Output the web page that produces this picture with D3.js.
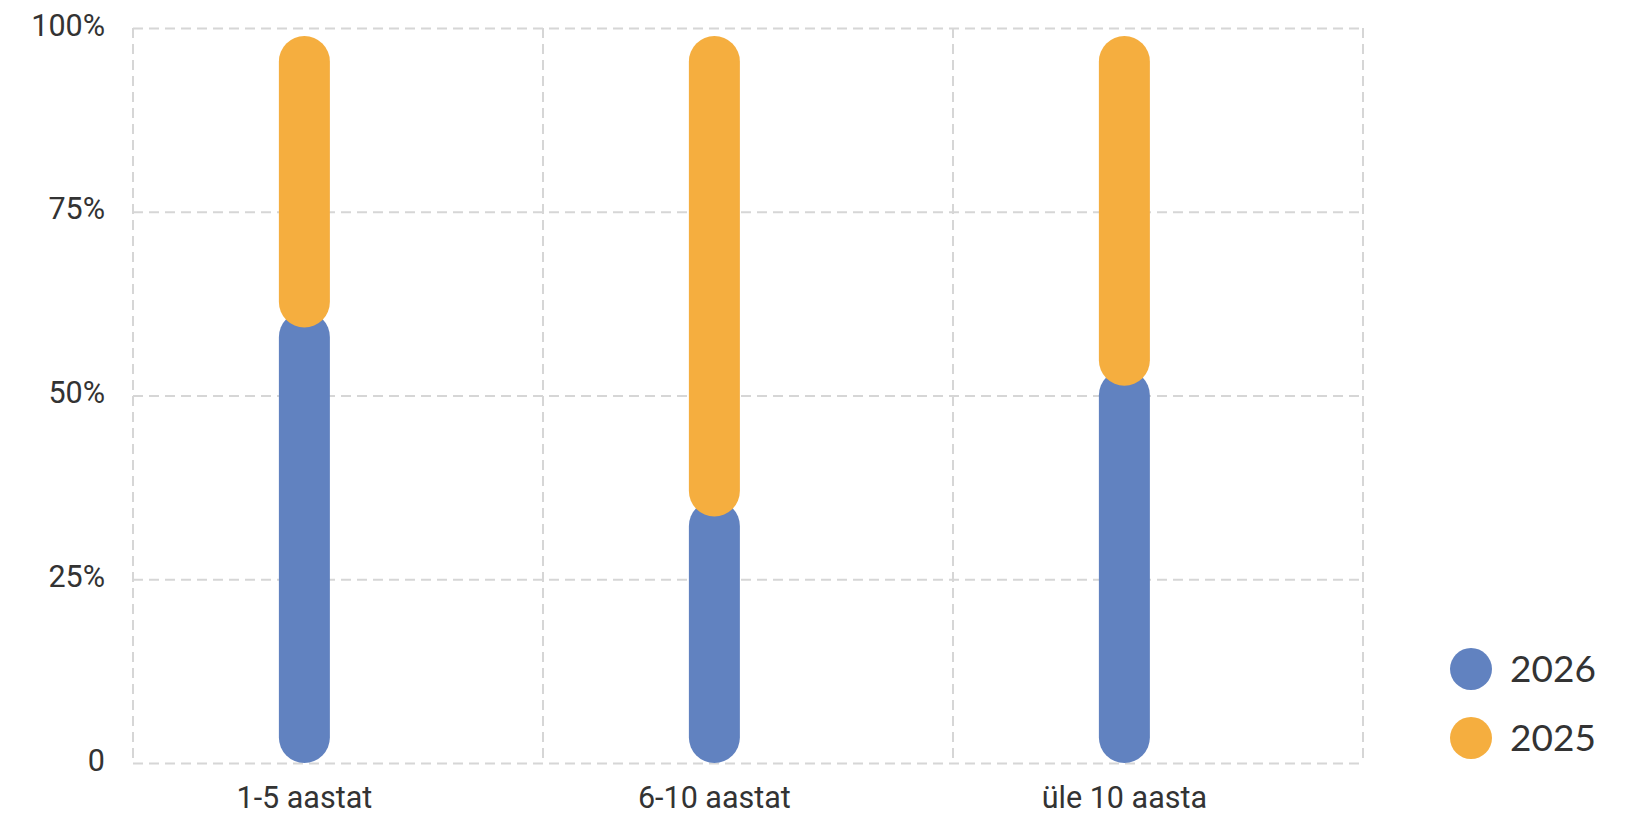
<!DOCTYPE html>
<html>
<head>
<meta charset="utf-8">
<script src="https://cdn.jsdelivr.net/npm/d3@7"></script>
<style>
	body { margin: 0; background: #fff; }
	svg { display: block; }
</style>
</head>
<body>
<svg id="chart" width="1625" height="815"></svg>
<script>
var categories = ["1-5 aastat", "6-10 aastat", "üle 10 aasta"];
var seriesNames = ["2026", "2025"];
var values2026 = [61, 35, 53];
var values2025 = [39, 65, 47];
var yTicks = [0, 25, 50, 75, 100];
var colours = ["#6182c0", "#f5ae3f"];

var svg = d3.select("#chart"),
	plotLeft = 133, plotRight = 1363, plotTop = 28, plotBottom = 763,
	barWidth = 51,
	overlap = 8;

//table for d3.stack, built from the arrays above
var table = categories.map(function(c, i) {
	return {cat: c, "2026": values2026[i], "2025": values2025[i]};
});
var stacked = d3.stack().keys(seriesNames)(table);

var x = d3.scaleBand()
	.domain(categories)
	.range([plotLeft, plotRight])
	.padding(0);
var y = d3.scaleLinear()
	.domain([0, 100])
	.range([plotBottom, plotTop]);
//bars stop a bit under the 100% line
var barY = d3.scaleLinear()
	.domain([0, 100])
	.range([plotBottom, plotTop + 8]);

function barCenter(c) {
	return x(c) + x.bandwidth() * 0.418;
}

var gridStyle = function(sel) {
	sel.attr("stroke", "#d6d6d6")
		.attr("stroke-width", 2)
		.attr("stroke-dasharray", "10,6");
};

//horizontal grid + y labels
var yAxis = svg.append("g")
	.attr("transform", "translate(" + plotLeft + ",0)")
	.call(d3.axisLeft(y)
		.tickValues(yTicks)
		.tickSize(-(plotRight - plotLeft))
		.tickPadding(28)
		.tickFormat(function(d) { return d === 0 ? "0" : d + "%"; }));
yAxis.select(".domain").remove();
yAxis.selectAll(".tick line").call(gridStyle);
yAxis.selectAll(".tick text")
	.attr("dy", "0.3em")
	.attr("y", -2)
	.attr("fill", "#333")
	.style("font-family", "Roboto, 'Noto Sans', sans-serif")
	.style("font-size", "30.5px");

//vertical grid
var vLines = categories.map(function(c) { return x(c); }).concat([plotRight]);
svg.append("g").selectAll("line")
	.data(vLines)
	.enter()
	.append("line")
		.attr("x1", function(d) { return d; })
		.attr("x2", function(d) { return d; })
		.attr("y1", plotTop)
		.attr("y2", plotBottom)
		.call(gridStyle);

//stacked pills
svg.append("g").selectAll(".layer")
	.data(stacked)
	.enter()
	.append("g")
		.attr("class", "layer")
		.attr("fill", function(d, i) { return colours[i]; })
	.selectAll("rect")
	.data(function(d) { return d; })
	.enter()
	.append("rect")
		.attr("x", function(d) { return barCenter(d.data.cat) - barWidth / 2; })
		.attr("width", barWidth)
		.attr("rx", barWidth / 2)
		.attr("y", function(d) {
			return barY(d[1]) - (d[1] < 100 ? overlap : 0);
		})
		.attr("height", function(d) {
			var y0 = barY(d[0]) + (d[0] > 0 ? overlap : 0),
				y1 = barY(d[1]) - (d[1] < 100 ? overlap : 0);
			return y0 - y1;
		});

//x labels
svg.append("g").selectAll("text")
	.data(categories)
	.enter()
	.append("text")
		.attr("x", function(d) { return barCenter(d); })
		.attr("y", 808)
		.attr("text-anchor", "middle")
		.attr("fill", "#333")
		.style("font-family", "Roboto, 'Noto Sans', sans-serif")
		.style("font-size", "30.5px")
		.text(function(d) { return d; });

//legend
var legend = svg.append("g").selectAll("g")
	.data(seriesNames)
	.enter()
	.append("g")
		.attr("transform", function(d, i) { return "translate(1471," + (669 + i * 69) + ")"; });
legend.append("circle")
	.attr("r", 21)
	.attr("fill", function(d, i) { return colours[i]; });
legend.append("text")
	.attr("x", 39)
	.attr("dy", "0.36em")
	.attr("fill", "#333")
	.style("font-family", "Lato, 'Open Sans', sans-serif")
	.style("font-size", "37px")
	.text(function(d) { return d; });
</script>
</body>
</html>
